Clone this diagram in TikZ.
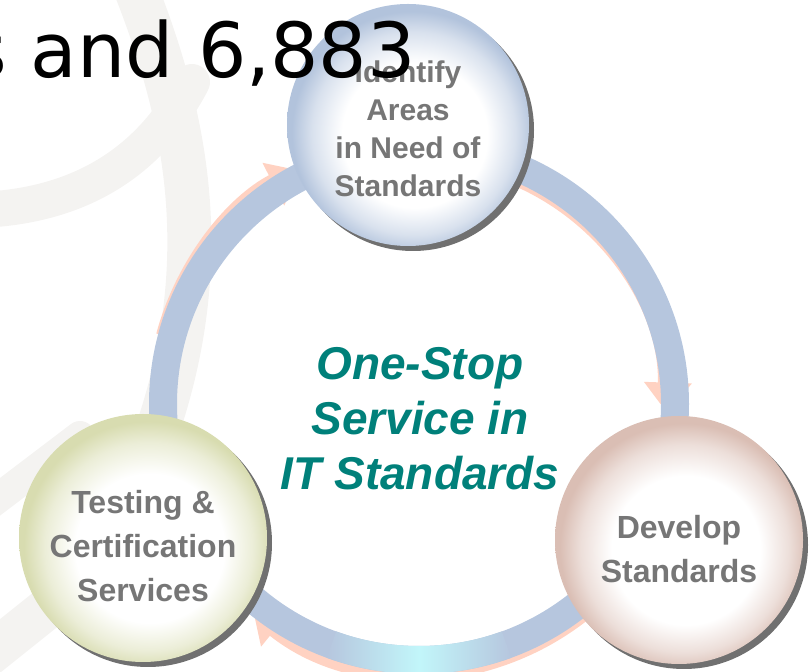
\documentclass[tikz,border=0pt]{standalone}
\usepackage{fontspec}
\setmainfont{Liberation Sans}
\newfontfamily\slidefont{DejaVu Sans}
\usetikzlibrary{arrows.meta}
\usetikzlibrary{shadows}

\definecolor{ringblue}{RGB}{182,198,222}
\definecolor{ringglow}{RGB}{194,246,250}
\definecolor{salmon}{RGB}{255,210,194}
\definecolor{swirlgray}{RGB}{244,243,241}
\definecolor{rimblue}{RGB}{178,195,220}
\definecolor{rimgreen}{RGB}{216,220,176}
\definecolor{rimrose}{RGB}{218,190,180}
\definecolor{labelgray}{RGB}{118,118,118}
\definecolor{hubteal}{RGB}{0,128,122}
\definecolor{shadowgray}{RGB}{112,112,112}

% white ball with a tinted rim, light falls from the lower right
\pgfdeclareradialshading{ballblue}{\pgfpoint{2bp}{-3bp}}{color(0bp)=(white); color(15bp)=(white); color(21bp)=(rimblue!50!white); color(25bp)=(rimblue); color(50bp)=(rimblue)}
\pgfdeclareradialshading{ballgreen}{\pgfpoint{2bp}{-3bp}}{color(0bp)=(white); color(15bp)=(white); color(21bp)=(rimgreen!50!white); color(25bp)=(rimgreen); color(50bp)=(rimgreen)}
\pgfdeclareradialshading{ballrose}{\pgfpoint{2bp}{-3bp}}{color(0bp)=(white); color(15bp)=(white); color(21bp)=(rimrose!50!white); color(25bp)=(rimrose); color(50bp)=(rimrose)}

\tikzset{stage/.style={       % The three process circles
           circle,
           shade,
           minimum size=248pt,
           inner sep=0pt,
           drop shadow={shadow xshift=5pt, shadow yshift=-5pt,
                        fill=shadowgray, opacity=1}},
         stagelabel/.style={  % Grey text laid on a circle
           align=center,
           inner sep=0pt,
           text=labelgray,
           font=\bfseries\fontsize{32}{44}\selectfont},
         ringband/.style={    % Big cycle behind the circles
           draw=ringblue,
           line width=28pt},
         salmonarc/.style={   % Faint arrows under the cycle
           draw=salmon,
           line width=20pt,
           -{Triangle[width=46pt,length=30pt]}},
         swirlband/.style={   % Background decoration
           draw=swirlgray,
           line cap=round},
         hubtext/.style={
           align=center,
           inner sep=0pt,
           text=hubteal,
           font=\bfseries\itshape\fontsize{46}{55}\selectfont},
         headline/.style={
           anchor=base west,
           inner sep=0pt,
           font=\slidefont\fontsize{76}{80}\selectfont}}

\begin{document}
\begin{tikzpicture}[x=1pt,y=1pt]
\useasboundingbox (0,0) rectangle (812,672);
\clip (0,0) rectangle (812,672);

% background swirls
\draw[swirlband, line width=44pt] (133,690) .. controls (185,560) and (215,420) .. (160,250);
\draw[swirlband, line width=36pt] (-20,462) .. controls (80,466) and (150,510) .. (192,590);
\draw[swirlband, line width=30pt] (-20,160) -- (80,236);
\draw[swirlband, line width=42pt] (-20,10) -- (70,82);

\coordinate (hub) at (419,268);

% arrows: identify -> develop -> testing -> identify
\draw[salmonarc] ([shift={(72:248)}]hub) arc[start angle=72, end angle=-2, radius=248];
\draw[salmonarc] ([shift={(320:264)}]hub) arc[start angle=320, end angle=231, radius=264];
\draw[salmonarc] ([shift={(165:262)}]hub) arc[start angle=165, end angle=117, radius=262];

\draw[ringband] (hub) circle[radius=256];
\shade[left color=ringblue, right color=ringblue, middle color=ringglow]
  ([shift={(250:242)}]hub) arc[start angle=250, end angle=290, radius=242]
  -- ([shift={(290:270)}]hub) arc[start angle=290, end angle=250, radius=270] -- cycle;

\begin{scope}[every label/.style={stagelabel}]
    \node[stage, shading=ballblue, minimum size=242pt,
          label={[yshift=-4pt, font=\bfseries\fontsize{30}{38}\selectfont]center:{Identify\\Areas\\in Need of\\Standards}}]
      (I) at (408,547) {};
    \node[stage, shading=ballrose, label={[yshift=-9pt]center:{Develop\\Standards}}]
      (D) at (679,132) {};
    \node[stage, shading=ballgreen, label={[yshift=-8pt]center:{Testing \&\\Certification\\Services}}]
      (T) at (143,134) {};
\end{scope}

\node[hubtext] (hubtitle) at (420,253) {One-Stop\\Service in\\IT Standards};

\node[headline] (head) at (-33,594) {s and 6,883};
\end{tikzpicture}
\end{document}
